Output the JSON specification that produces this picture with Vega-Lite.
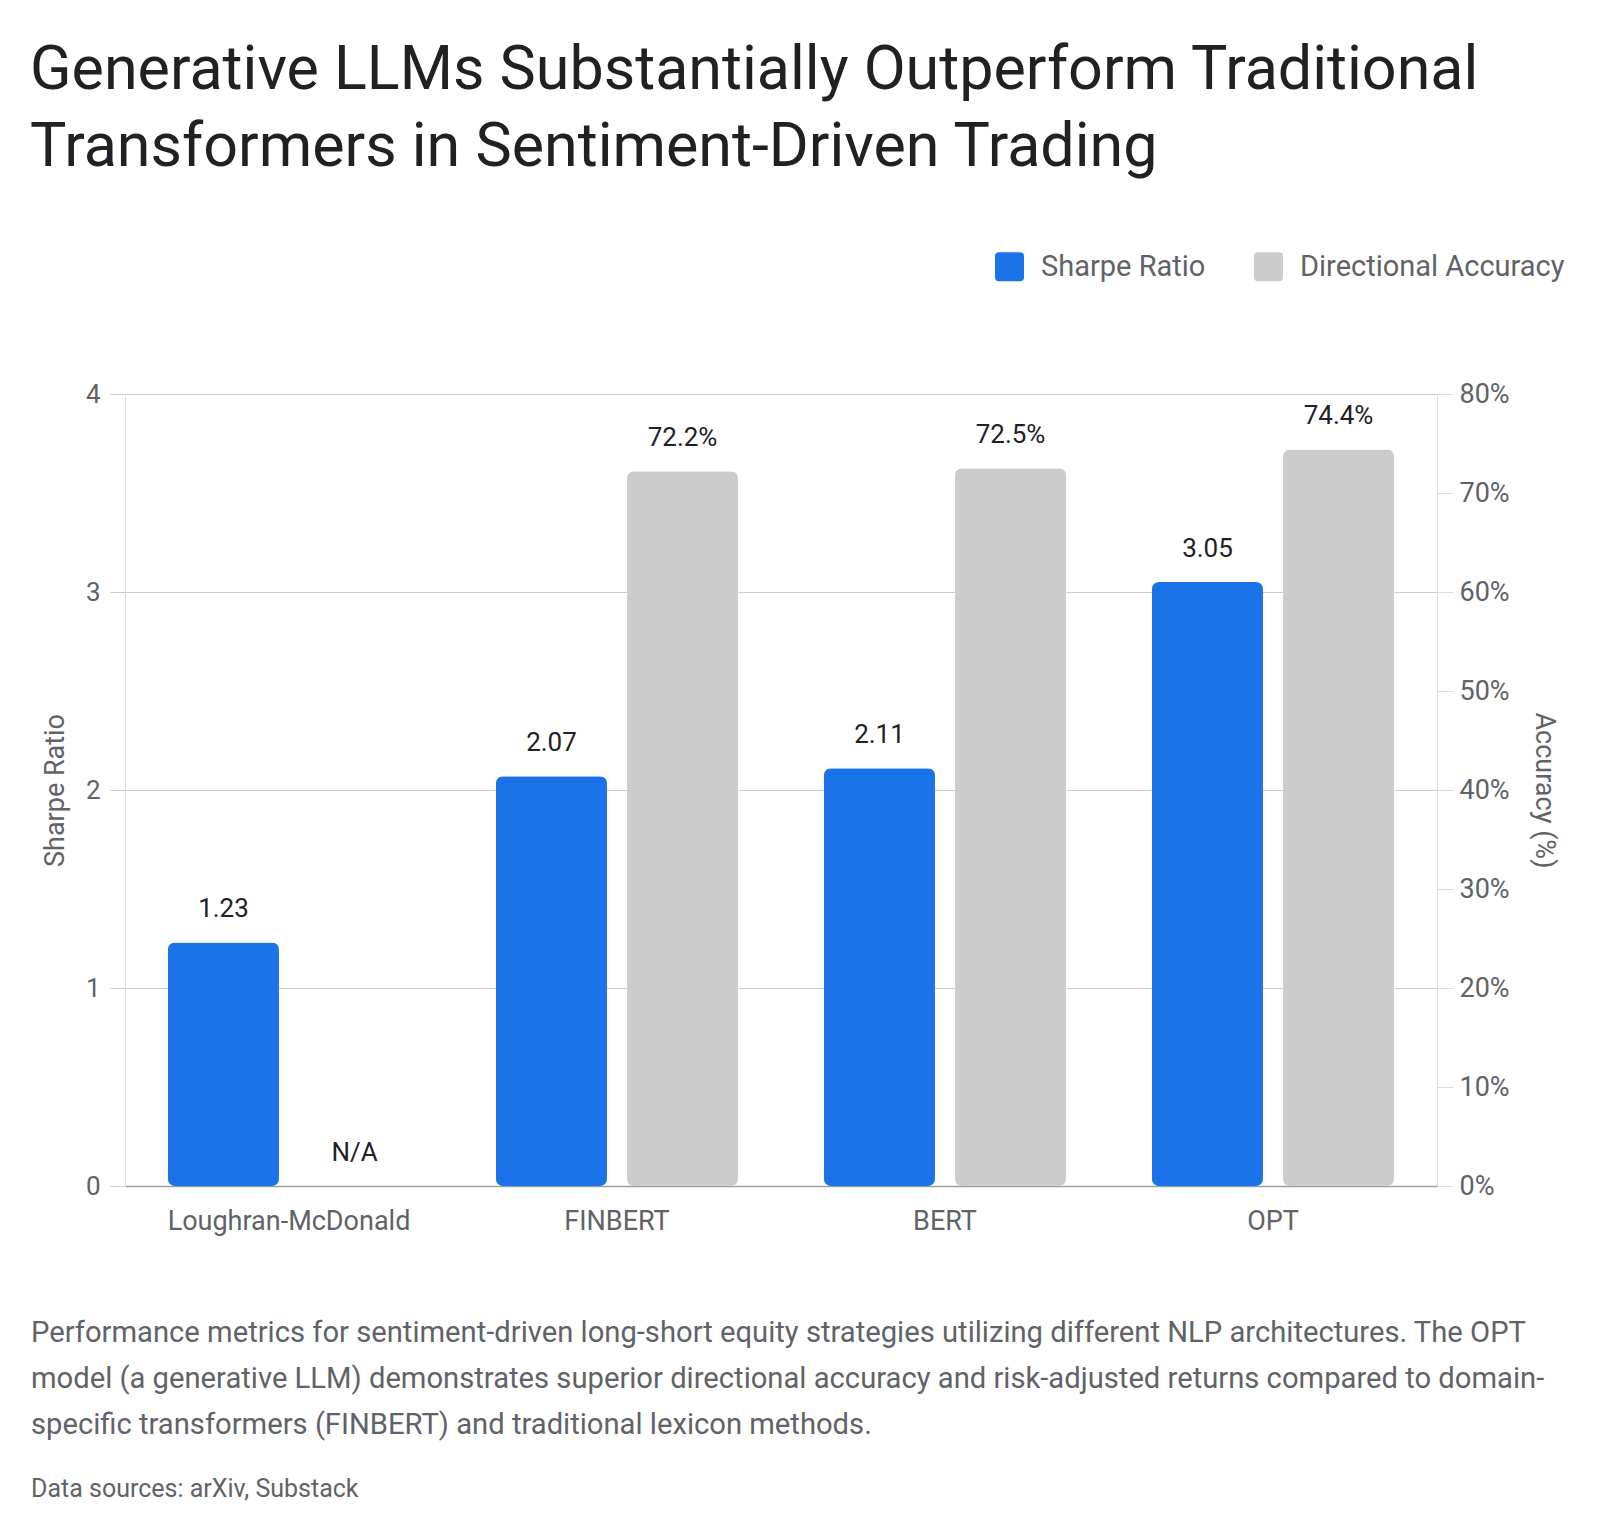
{
  "$schema": "https://vega.github.io/schema/vega-lite/v6.json",
  "padding": {"left": 30, "top": 40, "right": 20, "bottom": 20},
  "config": {
    "font": "Roboto",
    "view": {"stroke": null},
    "background": "#ffffff"
  },
  "data": {
    "values": [
      {"model": "Loughran-McDonald", "metric": "Sharpe Ratio", "value": 1.23, "label": "1.23"},
      {"model": "Loughran-McDonald", "metric": "Directional Accuracy", "value": null, "label": "N/A"},
      {"model": "FINBERT", "metric": "Sharpe Ratio", "value": 2.07, "label": "2.07"},
      {"model": "FINBERT", "metric": "Directional Accuracy", "value": 72.2, "label": "72.2%"},
      {"model": "BERT", "metric": "Sharpe Ratio", "value": 2.11, "label": "2.11"},
      {"model": "BERT", "metric": "Directional Accuracy", "value": 72.5, "label": "72.5%"},
      {"model": "OPT", "metric": "Sharpe Ratio", "value": 3.05, "label": "3.05"},
      {"model": "OPT", "metric": "Directional Accuracy", "value": 74.4, "label": "74.4%"}
    ]
  },
  "spacing": 84,
  "vconcat": [
    {
      "width": 1312,
      "height": 792,
      "title": {
        "text": ["Generative LLMs Substantially Outperform Traditional", "Transformers in Sentiment-Driven Trading"],
        "anchor": "start",
        "frame": "group",
        "dx": -95,
        "offset": 201,
        "fontSize": 61,
        "lineHeight": 77,
        "fontWeight": 400,
        "color": "#202124"
      },
      "encoding": {
        "x": {
          "field": "model",
          "type": "nominal",
          "sort": ["Loughran-McDonald", "FINBERT", "BERT", "OPT"],
          "scale": {"paddingInner": 0.262, "paddingOuter": 0.131},
          "axis": {
            "title": null,
            "labelAngle": 0,
            "labelFontSize": 27,
            "labelLimit": 400,
            "labelColor": "#5f6368",
            "labelPadding": 22,
            "ticks": false,
            "domainColor": "#9e9e9e",
            "domainWidth": 1.5
          }
        },
        "xOffset": {
          "field": "metric",
          "type": "nominal",
          "sort": ["Sharpe Ratio", "Directional Accuracy"],
          "scale": {"paddingInner": 0.153, "paddingOuter": 0}
        }
      },
      "layer": [
        {
          "transform": [{"filter": "datum.metric === 'Sharpe Ratio'"}],
          "encoding": {
            "y": {
              "field": "value",
              "type": "quantitative",
              "scale": {"domain": [0, 4], "nice": false},
              "axis": {
                "orient": "left",
                "title": "Sharpe Ratio",
                "values": [0, 1, 2, 3, 4],
                "format": "d",
                "grid": true,
                "gridColor": "#cccccc",
                "tickColor": "#cccccc",
                "tickSize": 15,
                "domainColor": "#dadce0",
                "labelFontSize": 26,
                "labelColor": "#5f6368",
                "labelPadding": 10,
                "titleFontSize": 27,
                "titleFontWeight": 400,
                "titleColor": "#5f6368",
                "titlePadding": 16
              }
            }
          },
          "layer": [
            {
              "mark": {"type": "bar", "cornerRadius": 7},
              "encoding": {
                "color": {
                  "field": "metric",
                  "type": "nominal",
                  "scale": {"domain": ["Sharpe Ratio", "Directional Accuracy"], "range": ["#1a73e8", "#cccccc"]},
                  "legend": {
                    "title": null,
                    "orient": "none",
                    "direction": "horizontal",
                    "legendX": 870,
                    "legendY": -142,
                    "symbolType": "M-1,-0.72Q-1,-1,-0.72,-1L0.72,-1Q1,-1,1,-0.72L1,0.72Q1,1,0.72,1L-0.72,1Q-1,1,-1,0.72Z",
                    "symbolSize": 841,
                    "symbolStrokeWidth": 0,
                    "symbolOpacity": 1,
                    "labelFontSize": 29,
                    "labelLimit": 400,
                    "labelColor": "#5f6368",
                    "labelOffset": 17,
                    "columnPadding": 48,
                    "padding": 0
                  }
                }
              }
            },
            {
              "mark": {"type": "text", "baseline": "alphabetic", "dy": -25, "fontSize": 26, "color": "#202124"},
              "encoding": {"text": {"field": "label"}}
            }
          ]
        },
        {
          "transform": [{"filter": "datum.metric === 'Directional Accuracy' && datum.value != null"}],
          "encoding": {
            "y": {
              "field": "value",
              "type": "quantitative",
              "scale": {"domain": [0, 80], "nice": false},
              "axis": {
                "orient": "right",
                "title": "Accuracy (%)",
                "values": [0, 10, 20, 30, 40, 50, 60, 70, 80],
                "labelExpr": "datum.value + '%'",
                "grid": false,
                "tickColor": "#dadce0",
                "tickSize": 16,
                "domainColor": "#dadce0",
                "labelFontSize": 27,
                "labelColor": "#5f6368",
                "labelPadding": 6,
                "titleFontSize": 27,
                "titleFontWeight": 400,
                "titleColor": "#5f6368",
                "titlePadding": 20
              }
            }
          },
          "layer": [
            {
              "mark": {"type": "bar", "cornerRadius": 7},
              "encoding": {
                "color": {"field": "metric", "type": "nominal"}
              }
            },
            {
              "mark": {"type": "text", "baseline": "alphabetic", "dy": -25, "fontSize": 26, "color": "#202124"},
              "encoding": {"text": {"field": "label"}}
            }
          ]
        },
        {
          "transform": [{"filter": "datum.metric === 'Directional Accuracy' && datum.label === 'N/A'"}],
          "mark": {"type": "text", "baseline": "alphabetic", "dy": -25, "fontSize": 26, "color": "#202124"},
          "encoding": {
            "y": {"datum": 0, "type": "quantitative", "scale": {"domain": [0, 80], "nice": false}, "axis": null},
            "text": {"field": "label"}
          }
        }
      ],
      "resolve": {"scale": {"y": "independent"}}
    },
    {
      "width": 1312,
      "height": 1,
      "data": {"values": []},
      "mark": "point",
      "title": {
        "text": [
          "Performance metrics for sentiment-driven long-short equity strategies utilizing different NLP architectures. The OPT",
          "model (a generative LLM) demonstrates superior directional accuracy and risk-adjusted returns compared to domain-",
          "specific transformers (FINBERT) and traditional lexicon methods."
        ],
        "subtitle": "Data sources: arXiv, Substack",
        "anchor": "start",
        "frame": "group",
        "dx": -94,
        "fontSize": 29.2,
        "lineHeight": 46,
        "fontWeight": 400,
        "color": "#5f6368",
        "subtitleFontSize": 25,
        "subtitleColor": "#5f6368",
        "subtitlePadding": 37
      }
    }
  ]
}
